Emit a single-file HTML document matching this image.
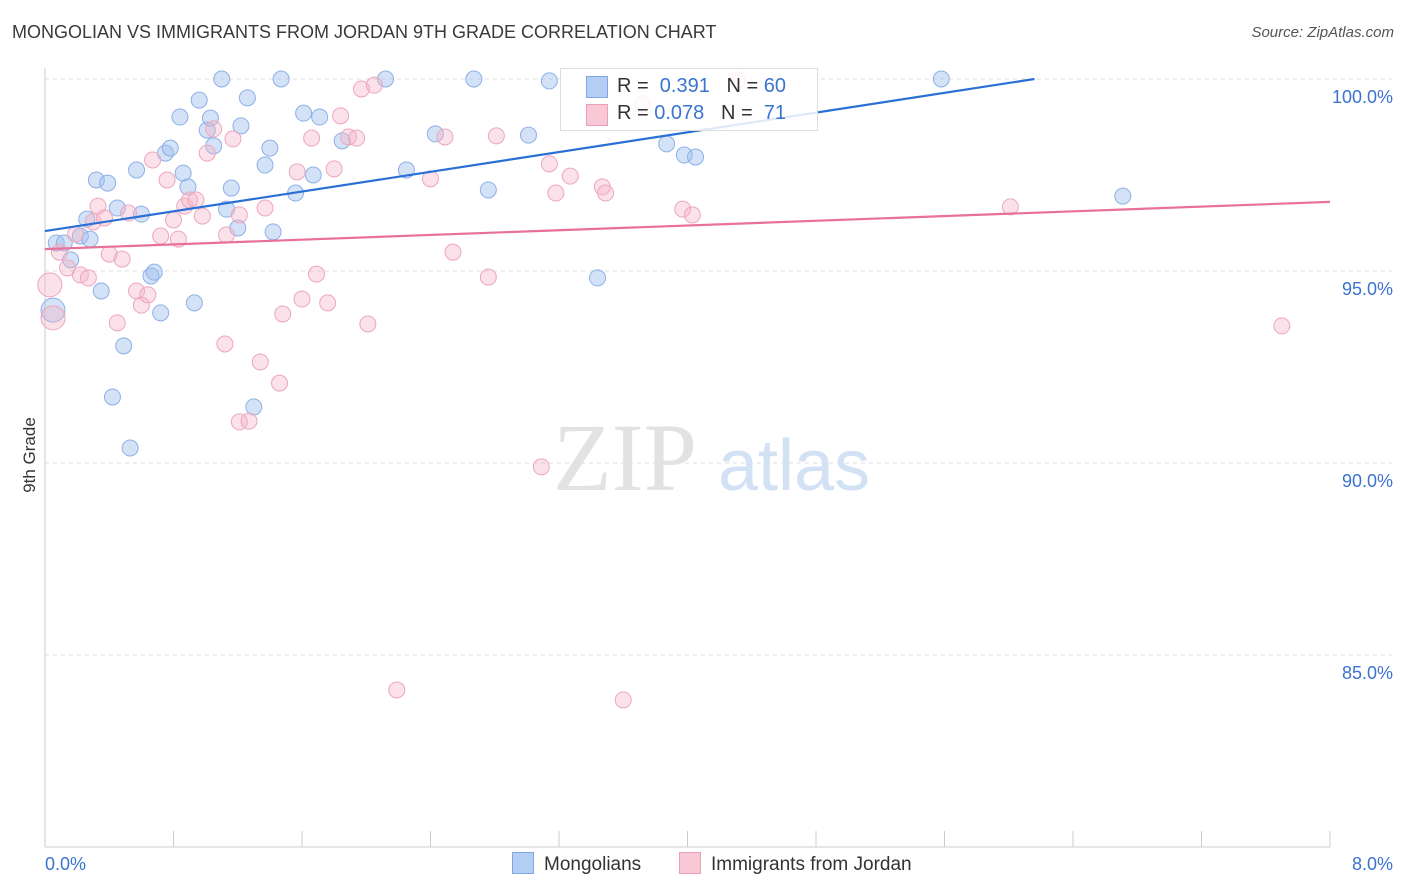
<!DOCTYPE html>
<html><head><meta charset="utf-8">
<style>
body{margin:0;background:#fff;font-family:"Liberation Sans",sans-serif;}
#wrap{position:relative;width:1406px;height:892px;overflow:hidden;}
.t{position:absolute;white-space:nowrap;}
</style></head>
<body>
<div id="wrap">
<div class="t" style="left:12px;top:22px;font-size:18px;color:#3a3a3a;">MONGOLIAN VS IMMIGRANTS FROM JORDAN 9TH GRADE CORRELATION CHART</div>
<div class="t" style="right:12px;top:24px;font-size:15px;color:#555;font-style:italic;">Source: ZipAtlas.com</div>
<div class="t" style="left:-8px;top:445px;font-size:17px;color:#333;transform:rotate(-90deg);">9th Grade</div>
<svg id="plot" width="1406" height="892" style="position:absolute;left:0;top:0"></svg>
<div class="t" style="left:560px;top:68px;width:256px;height:61px;border:1px solid #ddd;background:rgba(255,255,255,0.85);font-size:20px;">
 <div style="position:absolute;left:25px;top:7px;width:20px;height:20px;background:#b4cdf3;border:1px solid #7fa7e6;"></div>
 <div style="position:absolute;left:56px;top:6px;color:#333">R = <span style="color:#3b73d1">&nbsp;0.391</span>&nbsp;&nbsp;&nbsp;N = <span style="color:#3b73d1">60</span></div>
 <div style="position:absolute;left:25px;top:35px;width:20px;height:20px;background:#f8c8d6;border:1px solid #ee9fb8;"></div>
 <div style="position:absolute;left:56px;top:33px;color:#333">R = <span style="color:#3b73d1">0.078</span>&nbsp;&nbsp;&nbsp;N = <span style="color:#3b73d1">&nbsp;71</span></div>
</div>
<div class="t" style="left:512px;top:852px;font-size:19px;color:#333;"><span style="display:inline-block;width:20px;height:20px;background:#b4cdf3;border:1px solid #7fa7e6;vertical-align:-4px;margin-right:10px"></span>Mongolians</div>
<div class="t" style="left:679px;top:852px;font-size:19px;color:#333;"><span style="display:inline-block;width:20px;height:20px;background:#f8c8d6;border:1px solid #ee9fb8;vertical-align:-4px;margin-right:10px"></span>Immigrants from Jordan</div>
</div>
<script>
const xTickLabels=["0.0%","8.0%"];
const yTicks=[100,95,90,85];
const yTickLabels=["100.0%","95.0%","90.0%","85.0%"];
const blueX=[.05,.07,.12,.16,.22,.28,.26,.32,.39,.35,.45,.49,.42,.53,.57,.60,.66,.68,.72,.75,.78,.84,.86,.89,.93,.96,1.01,1.03,1.05,1.10,1.13,1.16,1.20,1.22,1.26,1.30,1.37,1.40,1.42,1.47,1.56,1.61,1.67,1.71,1.85,2.12,2.25,2.43,2.67,2.76,3.01,3.14,3.44,3.87,3.98,4.05,5.58,6.71];
const blueY=[93.98,95.73,95.73,95.29,95.91,95.83,96.35,97.37,97.29,94.48,96.64,93.05,91.72,90.39,97.63,96.48,94.87,94.97,93.91,98.07,98.20,99.01,97.55,97.19,94.17,99.45,98.67,98.98,98.26,100,96.61,97.16,96.12,98.78,99.51,91.46,97.76,98.20,96.02,100,97.03,99.11,97.50,99.01,98.39,100,97.63,98.57,100,97.11,98.54,99.95,94.82,98.31,98.02,97.97,100,96.95];
const pinkX=[.03,.05,.09,.14,.19,.22,.27,.30,.33,.37,.40,.45,.48,.52,.57,.60,.64,.67,.72,.76,.80,.83,.87,.90,.94,.98,1.01,1.05,1.12,1.13,1.17,1.21,1.21,1.27,1.34,1.37,1.46,1.48,1.57,1.60,1.66,1.69,1.76,1.80,1.84,1.89,1.94,1.97,2.01,2.05,2.19,2.40,2.49,2.54,2.76,2.81,3.09,3.14,3.18,3.27,3.47,3.49,3.60,3.72,3.97,4.03,4.31,6.01,7.70];
const pinkY=[94.64,93.78,95.49,95.08,95.96,94.90,94.82,96.28,96.69,96.38,95.44,93.65,95.31,96.51,94.48,94.11,94.38,97.89,95.91,97.37,96.33,95.83,96.69,96.85,96.85,96.43,98.07,98.70,93.10,95.94,98.44,96.46,91.07,91.09,92.63,96.64,92.08,93.88,97.58,94.27,98.46,94.92,94.17,97.66,99.04,98.49,98.46,99.74,93.62,99.84,84.09,97.40,98.49,95.49,94.84,98.52,89.90,97.79,97.03,97.47,97.19,97.03,83.83,99.35,96.61,96.46,99.97,96.67,93.57];
const blueTrend=[96.04,100.0];
const blueTrendX=[0,6.16];
const pinkTrend=[95.57,96.80];
const pinkTrendX=[0,8];
const bigBlue=[0]; const bigPink=[0,1];

const X0=45,X1=1330,Y100=79,PXPER=38.4;
const xs=v=>X0+(v/8)*(X1-X0);
const ys=v=>Y100+(100-v)*PXPER;
const svg=document.getElementById('plot');
const NS='http://www.w3.org/2000/svg';
function mk(tag,attrs){const e=document.createElementNS(NS,tag);for(const k in attrs)e.setAttribute(k,attrs[k]);svg.appendChild(e);return e;}
yTicks.forEach((v,i)=>{
 const g=mk('line',{x1:X0,x2:1392,y1:ys(v),y2:ys(v),stroke:'#ddd','stroke-dasharray':'4,4'});
 
 
 const t=mk('text',{x:1393,y:ys(v)+24,'text-anchor':'end','font-size':18,fill:'#3b73d1','font-family':'Liberation Sans, sans-serif'});
 t.textContent=yTickLabels[i];
 
 
});
const ax=mk('line',{x1:X0,x2:X0,y1:68,y2:ys(80),stroke:'#ccc'});


const bx=mk('line',{x1:X0,x2:X1,y1:ys(80),y2:ys(80),stroke:'#ccc'});


for(let i=0;i<=10;i++){
 const tk=mk('line',{x1:xs(i*0.8),x2:xs(i*0.8),y1:ys(80)-16,y2:ys(80),stroke:'#ccc'});
 
 
}
[[0,'start',X0],[1,'end',1393]].forEach(([i,a,x])=>{
 const t=mk('text',{x:x,y:870,'text-anchor':a,'font-size':18,fill:'#3b73d1','font-family':'Liberation Sans, sans-serif'});
 t.textContent=xTickLabels[i];
 
 
});
const w1=mk('text',{x:553,y:490,'font-size':96,fill:'#e2e2e2','font-family':'Liberation Serif, serif'});w1.textContent='ZIP';


const w2=mk('text',{x:718,y:490,'font-size':72,fill:'#d3e1f5','font-family':'Liberation Sans, sans-serif'});w2.textContent='atlas';


function pts(X,Y,big,fill,stroke,name){
 X.forEach((x,i)=>{
  const r=big.includes(i)?12:8;
  const c=mk('circle',{cx:xs(x),cy:ys(Y[i]),r:r,fill:fill,stroke:stroke,'stroke-width':1});
  
  
 });
}
pts(blueX,blueY,bigBlue,'rgba(160,190,238,0.45)','#8db0e8','point-mongolian');
pts(pinkX,pinkY,bigPink,'rgba(245,180,200,0.4)','#eea6bd','point-jordan');
const bl=mk('line',{x1:xs(blueTrendX[0]),y1:ys(blueTrend[0]),x2:xs(blueTrendX[1]),y2:ys(blueTrend[1]),stroke:'#2a6fd6','stroke-width':2.2});


const pl=mk('line',{x1:xs(pinkTrendX[0]),y1:ys(pinkTrend[0]),x2:xs(pinkTrendX[1]),y2:ys(pinkTrend[1]),stroke:'#e8709a','stroke-width':2.2});


</script>
</body></html>
